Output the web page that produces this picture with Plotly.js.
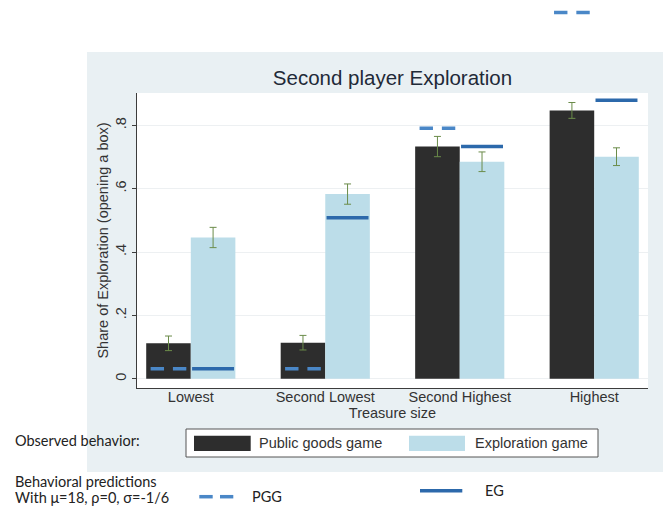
<!DOCTYPE html>
<html><head><meta charset="utf-8">
<script src="https://cdn.plot.ly/plotly-3.0.1.min.js"></script>
<style>html,body{margin:0;padding:0;background:#fff}#chart{width:669px;height:508px}</style>
</head><body><div id="chart"></div>
<script>
// ---- data ----
const categories = ['Lowest', 'Second Lowest', 'Second Highest', 'Highest'];
const pggObserved = [0.112, 0.114, 0.733, 0.847];
const pggError = [0.023, 0.023, 0.032, 0.025];
const egObserved = [0.446, 0.583, 0.685, 0.701];
const egError = [0.032, 0.032, 0.031, 0.028];
const pggPredicted = [0.032, 0.032, 0.791, 1.156];
const egPredicted = [0.032, 0.508, 0.733, 0.879];
const yTickValues = [0, 0.2, 0.4, 0.6, 0.8];
const yTickLabels = ['0', '.2', '.4', '.6', '.8'];

// ---- layout helpers ----
const W = 669, H = 508, M = {l: 137, r: 21, t: 0, b: 120};
const PW = W - M.l - M.r, PH = H - M.t - M.b;   // paper area: x 137..648, y 0..388
const PLOT_TOP = 93;                              // top of the visible plot frame (px)
const px = X => (X - M.l) / PW;
const py = Y => (H - M.b - Y) / PH;
const yDomTop = py(PLOT_TOP);
const yRange = [-0.029, 0.902];
const k = (PH - PLOT_TOP) / (yRange[1] - yRange[0]);      // px per unit
const yRange2 = [yRange[0], yRange[0] + PH / k];          // same scale, full height
const xRange = [-0.4, 3.4];

const FONT = 'Liberation Sans, Arial, sans-serif';
const CFONT = 'Lato, Open Sans, sans-serif';
const C_PGG_BAR = '#2d2d2d', C_EG_BAR = '#bcdde9';
const C_PGG_PRED = '#4a87c7', C_EG_PRED = '#2c69ab';
const C_ERR = '#6b8c4a';

const idx = categories.map((c, i) => i);
const barOff = 0.1657;   // half a bar width (category units)
const pggHalf = 0.133;   // half length of dashed PGG segment
const segHalf = 0.156;   // half length of EG prediction segment

const pggSegX = [], pggSegY = [];
idx.forEach(i => {
  pggSegX.push(i - barOff - pggHalf, i - barOff + pggHalf, null);
  pggSegY.push(pggPredicted[i], pggPredicted[i], null);
});
const egSegX = [], egSegY = [];
idx.forEach(i => {
  egSegX.push(i + barOff - segHalf, i + barOff + segHalf, null);
  egSegY.push(egPredicted[i], egPredicted[i], null);
});

const traces = [
  {type: 'bar', name: 'Public goods game', x: idx, y: pggObserved,
   marker: {color: C_PGG_BAR, line: {width: 0}},
   error_y: {type: 'data', array: pggError, visible: true, color: C_ERR, thickness: 1, width: 3.5}},
  {type: 'bar', name: 'Exploration game', x: idx, y: egObserved,
   marker: {color: C_EG_BAR, line: {width: 0}},
   error_y: {type: 'data', array: egError, visible: true, color: C_ERR, thickness: 1, width: 3.5}},
  {type: 'scatter', mode: 'lines', name: 'EG', x: egSegX, y: egSegY,
   line: {color: C_EG_PRED, width: 3.5}, connectgaps: false, hoverinfo: 'skip'},
  {type: 'scatter', mode: 'lines', name: 'PGG', x: pggSegX, y: pggSegY, xaxis: 'x2', yaxis: 'y2',
   line: {color: C_PGG_PRED, width: 3.5, dash: '13.4px,8.9px'}, connectgaps: false, hoverinfo: 'skip'}
];

const shapes = [
  {type: 'rect', xref: 'paper', yref: 'paper', layer: 'below',
   x0: px(87), x1: px(663), y0: py(472), y1: py(52), fillcolor: '#e9f0f3', line: {width: 0}},
  {type: 'rect', xref: 'paper', yref: 'paper', layer: 'below',
   x0: 0, x1: 1, y0: 0, y1: yDomTop, fillcolor: '#ffffff', line: {width: 0}},
  {type: 'rect', xref: 'paper', yref: 'paper', layer: 'above',
   x0: px(186), x1: px(598), y0: py(457), y1: py(429), fillcolor: '#ffffff', line: {color: '#555555', width: 1}},
  {type: 'rect', xref: 'paper', yref: 'paper', layer: 'above',
   x0: px(194), x1: px(250.7), y0: py(451), y1: py(435.7), fillcolor: C_PGG_BAR, line: {width: 0}},
  {type: 'rect', xref: 'paper', yref: 'paper', layer: 'above',
   x0: px(409), x1: px(465), y0: py(451), y1: py(435.7), fillcolor: C_EG_BAR, line: {width: 0}},
  {type: 'line', xref: 'paper', yref: 'paper', layer: 'above',
   x0: px(199.3), x1: px(212.7), y0: py(496.7), y1: py(496.7), line: {color: C_PGG_PRED, width: 3.5}},
  {type: 'line', xref: 'paper', yref: 'paper', layer: 'above',
   x0: px(220), x1: px(233.3), y0: py(496.7), y1: py(496.7), line: {color: C_PGG_PRED, width: 3.5}},
  {type: 'line', xref: 'paper', yref: 'paper', layer: 'above',
   x0: px(420), x1: px(462.3), y0: py(490.7), y1: py(490.7), line: {color: C_EG_PRED, width: 3.5}}
];

const ann = (text, X, Y, font, size, color) => ({
  text, xref: 'paper', yref: 'paper', x: px(X), y: py(Y), xanchor: 'left', yanchor: 'middle',
  showarrow: false, font: {family: font, size, color: color || '#222222'}
});
const annotations = [
  ann('Public goods game', 256.7, 443, FONT, 14.5, '#333333'),
  ann('Exploration game', 473.3, 443, FONT, 14.5, '#333333'),
  ann('Observed behavior:', 13, 440, CFONT, 14.5),
  ann('Behavioral predictions', 13, 481.5, CFONT, 14.5),
  ann('With \u03bc=18, \u03c1=0, \u03c3=-1/6', 13, 497.5, CFONT, 14.5),
  ann('PGG', 250, 496.7, CFONT, 14.5),
  ann('EG', 482.5, 490.5, CFONT, 14.5)
];

const layout = {
  width: W, height: H, margin: M,
  paper_bgcolor: '#ffffff', plot_bgcolor: 'rgba(0,0,0,0)',
  showlegend: false, barmode: 'group', bargap: 0.337, bargroupgap: 0,
  title: {text: 'Second player Exploration', x: 0.5, xref: 'paper', xanchor: 'center',
          y: 1 - 78 / H, yref: 'container', yanchor: 'middle',
          font: {family: FONT, size: 20.5, color: '#1f2a38'}},
  xaxis: {range: xRange, tickvals: idx, ticktext: categories, ticks: '', anchor: 'y',
          showline: true, linecolor: '#3c3c3c', linewidth: 1, showgrid: false, zeroline: false,
          tickfont: {family: FONT, size: 14.5, color: '#333333'}, ticklabelstandoff: -4,
          title: {text: 'Treasure size', font: {family: FONT, size: 14.5, color: '#333333'}, standoff: 2}},
  yaxis: {domain: [0, yDomTop], range: yRange, tickvals: yTickValues, ticktext: yTickLabels, tickangle: -90,
          anchor: 'x',
          ticks: 'outside', ticklen: 4, tickcolor: '#3c3c3c', showline: true, linecolor: '#3c3c3c', linewidth: 1,
          showgrid: true, gridcolor: '#edf0f2', gridwidth: 1, zeroline: false,
          tickfont: {family: FONT, size: 14.5, color: '#333333'},
          title: {text: 'Share of Exploration (opening a box)', font: {family: FONT, size: 14.5, color: '#333333'}, standoff: 1}},
  xaxis2: {domain: [0, 1], range: xRange, anchor: 'y2', visible: false, fixedrange: true},
  yaxis2: {domain: [0, 1], range: yRange2, anchor: 'x2', visible: false, fixedrange: true},
  shapes, annotations
};

Plotly.newPlot('chart', traces, layout, {displayModeBar: false, staticPlot: true});
</script>
</body></html>
